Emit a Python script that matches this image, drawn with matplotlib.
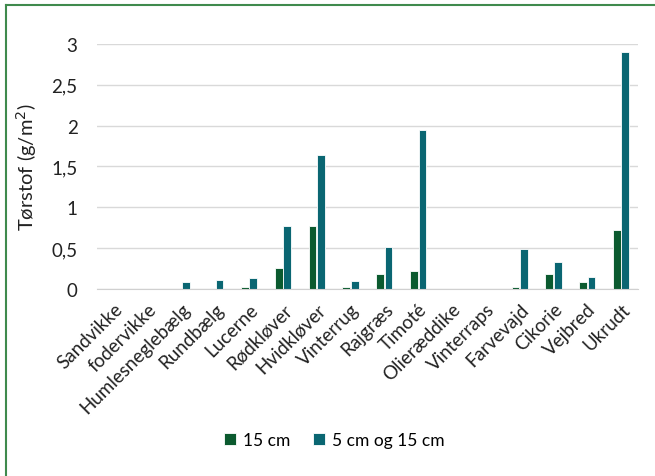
import matplotlib.pyplot as plt
import numpy as np
from matplotlib.lines import Line2D

plt.rcParams['font.family'] = ['Lato', 'DejaVu Sans']

arter = ['Sandvikke', 'fodervikke', 'Humlesneglebælg', 'Rundbælg', 'Lucerne',
         'Rødkløver', 'Hvidkløver', 'Vinterrug', 'Rajgræs', 'Timoté',
         'Olieræddike', 'Vinterraps', 'Farvevajd', 'Cikorie', 'Vejbred', 'Ukrudt']
cm15 = [0, 0, 0, 0, 0.03, 0.26, 0.77, 0.02, 0.18, 0.22, 0, 0, 0.02, 0.18, 0.09, 0.72]
cm5_15 = [0, 0, 0.09, 0.11, 0.14, 0.77, 1.64, 0.1, 0.52, 1.95, 0, 0, 0.49, 0.33, 0.15, 2.9]

green = '#0b5a2f'
teal = '#0a6672'

fig = plt.figure(figsize=(6.55, 4.77), dpi=100)
ax = fig.add_axes([0.148, 0.392, 0.826, 0.514])

x = np.arange(len(arter))
w = 0.23
ax.bar(x - 0.125, cm15, w, color=green, edgecolor='white', linewidth=0.6, label='15 cm')
ax.bar(x + 0.125, cm5_15, w, color=teal, edgecolor='white', linewidth=0.6, label='5 cm og 15 cm')

ax.set_xlim(-0.5, len(arter) - 0.5)
ax.set_ylim(0, 3)
ax.set_yticks([0, 0.5, 1, 1.5, 2, 2.5, 3])
ax.set_yticklabels(['0', '0,5', '1', '1,5', '2', '2,5', '3'], fontsize=13.5, color='#222222')
ax.set_xticks(x)
ax.set_xticklabels(arter, rotation=45, ha='right', rotation_mode='anchor', fontsize=13.5, color='#222222')
ax.tick_params(length=0, pad=8)
ax.tick_params(axis='y', pad=14)
ax.set_ylabel('Tørstof (g/m$^2$)', fontsize=14.5, color='#222222', labelpad=9)

ax.grid(axis='y', color='#d9d9d9', linewidth=1)
ax.set_axisbelow(True)
for s in ['top', 'right', 'left']:
    ax.spines[s].set_visible(False)
ax.spines['bottom'].set_color('#d0d0d0')

fig.legend(loc='center', bbox_to_anchor=(0.51, 0.075), ncol=2, frameon=False,
           fontsize=12.5, handlelength=0.7, handleheight=0.7, handletextpad=0.4,
           columnspacing=1.3)

# grøn ramme
bc = '#3f8a4d'
fig.add_artist(Line2D([6/655, 6/655], [0, 1 - 6/477], color=bc, linewidth=1.5))
fig.add_artist(Line2D([6/655, 1], [1 - 6/477, 1 - 6/477], color=bc, linewidth=1.5))

fig.savefig('out.png', dpi=100)
